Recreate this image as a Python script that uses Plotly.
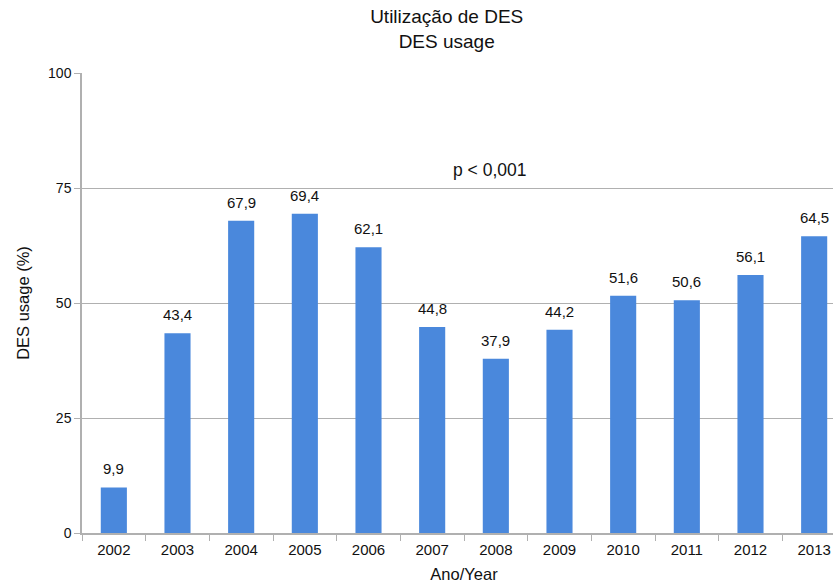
import plotly.graph_objects as go

years = ["2002", "2003", "2004", "2005", "2006", "2007",
         "2008", "2009", "2010", "2011", "2012", "2013"]
des_usage = [9.9, 43.4, 67.9, 69.4, 62.1, 44.8, 37.9, 44.2, 51.6, 50.6, 56.1, 64.5]
y_ticks = [0, 25, 50, 75, 100]

labels = [f"{v:.1f}".replace(".", ",") for v in des_usage]

fig = go.Figure()
fig.add_trace(go.Bar(
    x=years,
    y=des_usage,
    marker_color="#4a88dc",
    marker_line_width=0,
))

# value labels sit a bit above each bar (category axis -> use the index)
for i, (v, lab) in enumerate(zip(des_usage, labels)):
    fig.add_annotation(x=i, y=v, text=lab, showarrow=False, yanchor="bottom",
                       yshift=8, font=dict(size=15, color="#111111"))

fig.add_annotation(
    text="p < 0,001", x=0.534, xref="paper", y=79, yref="y",
    showarrow=False, font=dict(size=17.5, color="#111111"),
)

fig.update_layout(
    title=dict(text="Utilização de DES<br>DES usage", x=0.528, xanchor="center",
               y=0.9605, yanchor="top", font=dict(size=19, color="#111111")),
    font=dict(family="Liberation Sans, Arial, sans-serif", color="#111111"),
    plot_bgcolor="white",
    paper_bgcolor="white",
    bargap=0.59,
    showlegend=False,
    # plot area runs a little past the right edge of the window, like the original crop
    width=846, height=583,
    margin=dict(l=82, r=0, t=73, b=50),
    xaxis=dict(
        type="category", range=[-0.5, len(years) - 0.5], automargin=False,
        tickson="boundaries", ticks="outside", ticklen=6, tickcolor="#b0b0b0",
        showline=True, linecolor="#b0b0b0", linewidth=1.5,
        tickfont=dict(size=15), ticklabelstandoff=2,
        title=dict(text="Ano/Year", font=dict(size=16.5), standoff=17),
    ),
    yaxis=dict(
        range=[0, 100], tickvals=y_ticks, ticks="outside", ticklen=6, tickcolor="#b0b0b0",
        showline=True, linecolor="#b0b0b0", linewidth=1.5,
        showgrid=True, gridcolor="#b0b0b0", gridwidth=1,
        tickfont=dict(size=14),
        title=dict(text="DES usage (%)", font=dict(size=16.5), standoff=14),
        zeroline=False,
    ),
)

fig.write_html("out.html", config={"displayModeBar": False},
               post_script="document.body.style.margin='0';document.body.style.overflow='hidden';")
